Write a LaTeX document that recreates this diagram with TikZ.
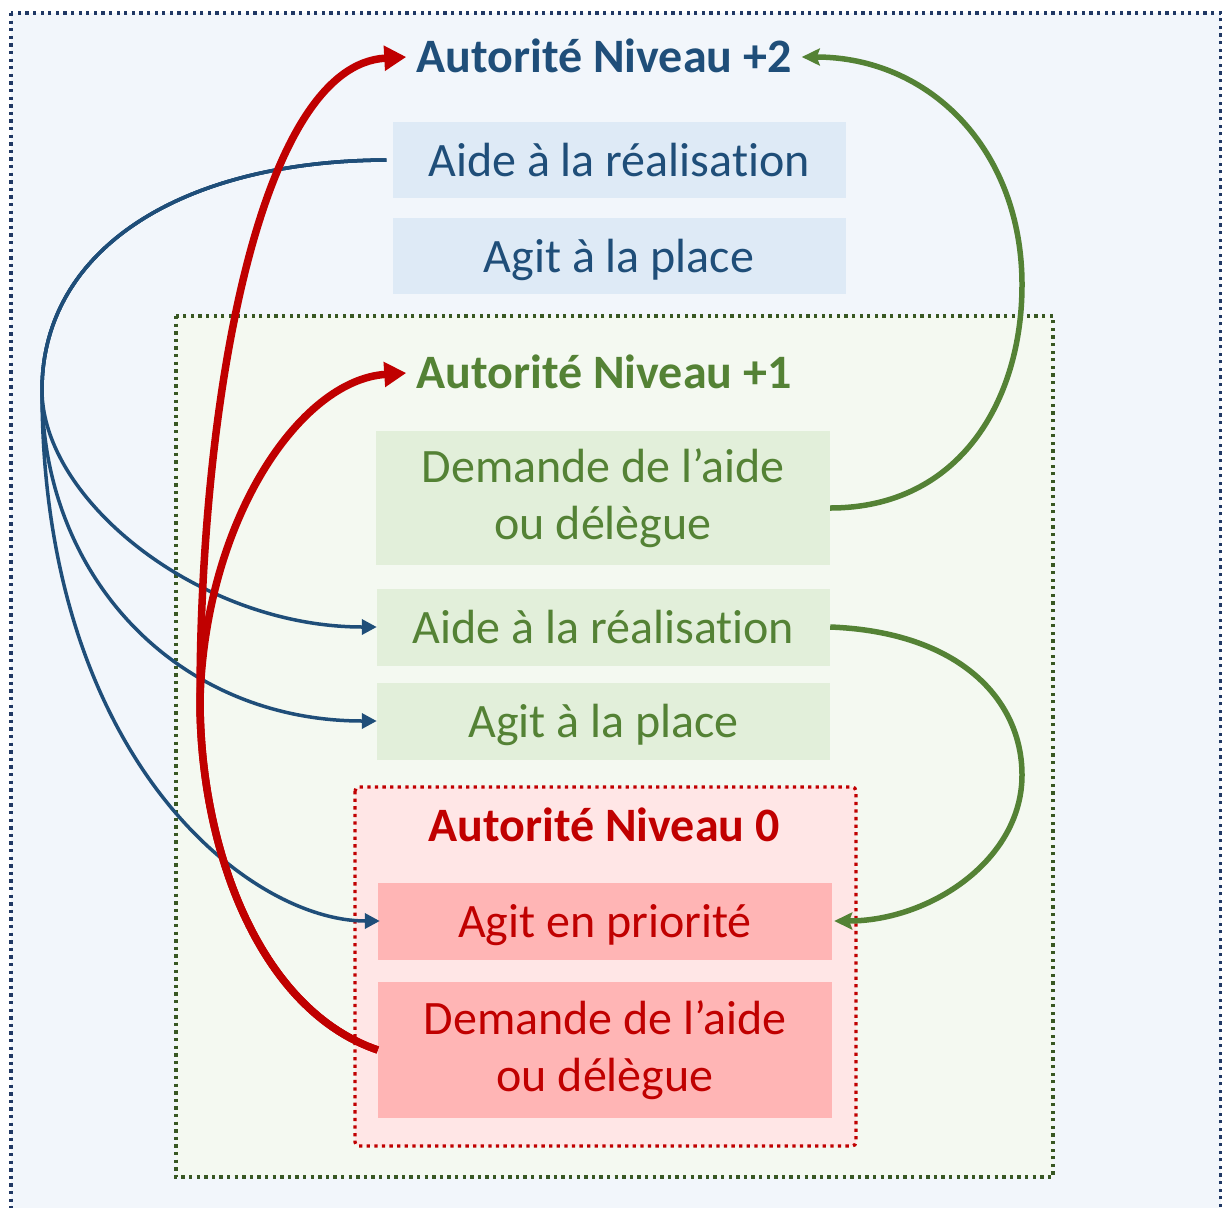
\documentclass[tikz,border=0pt]{standalone}
\usepackage{fontspec}
\setmainfont{Carlito}[Ligatures=NoCommon]
\usetikzlibrary{arrows.meta}
\definecolor{navy}{HTML}{1F4E79}
\definecolor{frameblue}{HTML}{203864}
\definecolor{bgblue}{HTML}{F2F6FB}
\definecolor{boxblue}{HTML}{DEEAF6}
\definecolor{dkgreen}{HTML}{548235}
\definecolor{framegreen}{HTML}{385723}
\definecolor{bggreen}{HTML}{F4F9F1}
\definecolor{boxgreen}{HTML}{E2EFDA}
\definecolor{dkred}{HTML}{C00000}
\definecolor{bgred}{HTML}{FFE6E6}
\definecolor{boxred}{HTML}{FFB5B5}
\begin{document}
\begin{tikzpicture}[x=1pt,y=-1pt,
  every node/.style={font=\fontsize{48}{57}\selectfont},
  boxbase/.style={rectangle, inner sep=0pt, minimum width=453pt, align=center},
  single/.style={minimum height=77pt, text height=42pt, text depth=10pt},
  double/.style={minimum height=135pt},
  bbox/.style={boxbase, fill=boxblue, text=navy},
  gbox/.style={boxbase, fill=boxgreen, text=dkgreen},
  rbox/.style={boxbase, fill=boxred, text=dkred},
  titlenode/.style={font=\fontsize{48}{57}\selectfont\bfseries, inner ysep=0pt, inner xsep=10pt, text height=31pt, text depth=0pt},
  dotframe/.style={line width=3.3pt, dash pattern=on 3.3pt off 4.3pt},
  bluearr/.style={draw=navy, line width=3.5pt, -{Triangle[length=15pt,width=15pt]}},
  greenarr/.style={draw=dkgreen, line width=5.5pt, -{Stealth[length=18pt,width=17pt,inset=3pt]}},
  redarr/.style={draw=dkred, line width=7.5pt, -{Triangle[length=22pt,width=24pt]}}
]
\useasboundingbox (0,0) rectangle (1222,1207);
\fill[white] (0,0) rectangle (1222,1207);
% frames
\begin{scope}
\clip (0,0) rectangle (1222,1207);
\draw[dotframe, draw=frameblue, fill=bgblue] (11,13) rectangle (1221,1240);
\end{scope}
\draw[dotframe, draw=framegreen, fill=bggreen] (176,316) rectangle (1053,1177);
\draw[dotframe, draw=dkred, fill=bgred, rounded corners=4pt] (355,787) rectangle (856,1146);
% titles
\node[titlenode, text=navy] (t2) at (604,57) {Autorité Niveau +2};
\node[titlenode, text=dkgreen] (t1) at (604,373) {Autorité Niveau +1};
\node[titlenode, text=dkred] (t0) at (604,826) {Autorité Niveau 0};
% boxes
\node[bbox, single, minimum height=76pt] (b1) at (619,160) {Aide à la réalisation};
\node[bbox, single, minimum height=76pt] (b2) at (619,256) {Agit à la place};
\node[gbox, double, minimum width=454pt, minimum height=134pt] (g1) at (603,498) {Demande de l’aide\\ou délègue};
\node[gbox, single] (g2) at (603.5,627) {Aide à la réalisation};
\node[gbox, single] (g3) at (603.5,721) {Agit à la place};
\node[rbox, single, minimum width=454pt] (r1) at (605,921) {Agit en priorité};
\node[rbox, double, minimum width=454pt, minimum height=136pt] (r2) at (605,1050) {Demande de l’aide\\ou délègue};
% blue connectors
\coordinate (bsplit) at (42,390);
\draw[bluearr] ([xshift=-6pt]b1.west) .. controls (180,161) and (42,250) .. (bsplit) .. controls (42,500) and (200,627) .. (g2.west);
\draw[bluearr] ([xshift=-6pt]b1.west) .. controls (180,161) and (42,250) .. (bsplit) .. controls (42,580) and (180,721) .. (g3.west);
\draw[bluearr] ([xshift=-6pt]b1.west) .. controls (180,161) and (42,250) .. (bsplit) .. controls (42,760) and (250,921) .. ([xshift=2pt]r1.west);
% red connectors
\coordinate (rbend) at (200,700);
\draw[redarr] (r2.west) .. controls (260,1010) and (200,850) .. (rbend) .. controls (200,400) and (260,65) .. (t2.west);
\draw[redarr] (r2.west) .. controls (260,1010) and (200,850) .. (rbend) .. controls (205,520) and (300,380) .. (t1.west);
% green connectors
\draw[greenarr] ([yshift=-10pt]g1.east) .. controls (960,508) and (1022,400) .. (1022,285) .. controls (1022,150) and (930,57) .. (t2.east);
\draw[greenarr] (g2.east) .. controls (960,632) and (1022,700) .. (1022,775) .. controls (1022,860) and (930,921) .. ([xshift=2pt]r1.east);
\end{tikzpicture}
\end{document}
